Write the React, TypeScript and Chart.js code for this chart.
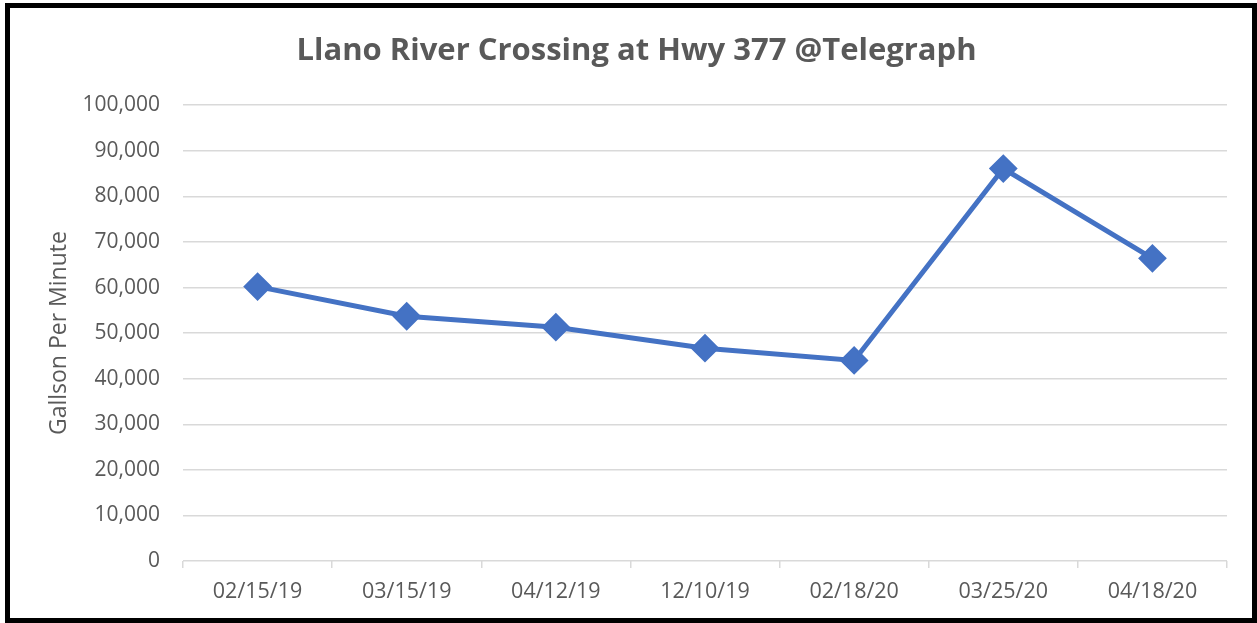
import { useEffect, useRef } from "react";
import { Chart, registerables } from "chart.js";

Chart.register(...registerables);

const TITLE = "Llano River Crossing at Hwy 377 @Telegraph";
const Y_TITLE = "Gallson Per Minute";
const categories = ["02/15/19", "03/15/19", "04/12/19", "12/10/19", "02/18/20", "03/25/20", "04/18/20"];
const flowValues = [60200, 53700, 51300, 46700, 44000, 86100, 66400];
const yMin = 0;
const yMax = 100000;
const yStep = 10000;

const BLUE = "#4472C4";
const TEXT = "#595959";
const GRID = "#d9d9d9";
const FONT = "'Open Sans', sans-serif";

export default function App() {
  const ref = useRef<HTMLCanvasElement>(null);

  useEffect(() => {
    document.body.style.margin = "0";
    const canvas = ref.current;
    if (!canvas) return;
    const chart = new Chart(canvas, {
      type: "line",
      data: {
        labels: categories,
        datasets: [
          {
            data: flowValues,
            borderColor: BLUE,
            backgroundColor: BLUE,
            borderWidth: 5,
            tension: 0,
            pointStyle: "rectRot",
            pointRadius: 13,
            pointBorderWidth: 2,
            pointBackgroundColor: BLUE,
            pointBorderColor: BLUE,
          },
        ],
      },
      options: {
        animation: false,
        responsive: false,
        layout: { padding: { left: 36, right: 25, top: 0, bottom: 0 } },
        plugins: {
          legend: { display: false },
          tooltip: { enabled: false },
          title: {
            display: true,
            text: TITLE,
            color: TEXT,
            font: { family: FONT, size: 31, weight: "bold", lineHeight: 1.2 },
            padding: { top: 25, bottom: 35 },
          },
        },
        scales: {
          x: {
            offset: true,
            grid: {
              offset: true,
              drawOnChartArea: false,
              drawTicks: true,
              tickLength: 7,
              color: GRID,
              lineWidth: 1.5,
            },
            border: { display: false },
            ticks: {
              color: TEXT,
              font: { family: FONT, size: 21.5 },
              padding: 11,
              maxRotation: 0,
              autoSkip: false,
            },
            afterFit: (s: any) => {
              s.height = 57;
            },
          },
          y: {
            min: yMin,
            max: yMax,
            ticks: {
              stepSize: yStep,
              color: TEXT,
              font: { family: FONT, size: 21 },
              padding: 23,
              callback: (v: any) => Number(v).toLocaleString("en-US"),
            },
            grid: { color: GRID, lineWidth: 1.5, drawTicks: false },
            border: { display: false },
            title: {
              display: true,
              text: Y_TITLE,
              color: TEXT,
              font: { family: FONT, size: 23, lineHeight: 1.2 },
              padding: { top: 0, bottom: 0 },
            },
            afterFit: (s: any) => {
              s.width = 137;
            },
          },
        },
      },
    });
    return () => chart.destroy();
  }, []);

  return (
    <div style={{ position: "relative", width: 1257, height: 623, background: "#fff" }}>
      <div
        style={{
          position: "absolute",
          left: 5,
          top: 3,
          width: 1252,
          height: 620,
          boxSizing: "border-box",
          border: "5px solid #000",
          background: "#fff",
        }}
      >
        <canvas ref={ref} width={1242} height={610} style={{ display: "block", width: 1242, height: 610 }} />
      </div>
    </div>
  );
}
